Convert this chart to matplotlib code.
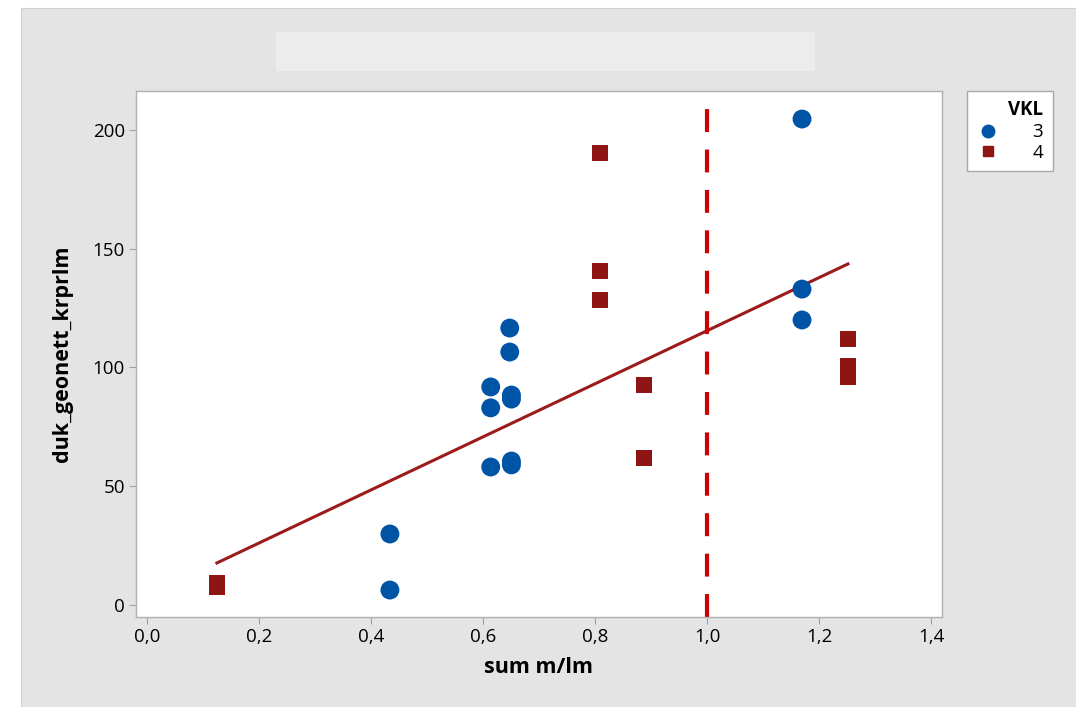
import matplotlib.pyplot as plt
from matplotlib.patches import Rectangle
from matplotlib.lines import Line2D

plt.rcParams["font.family"] = ["Open Sans", "DejaVu Sans"]

# VKL = 3 (blue circles)
x3 = [0.433, 0.433, 0.613, 0.613, 0.613, 0.647, 0.647, 0.650, 0.650, 0.650, 0.650, 1.169, 1.169, 1.169]
y3 = [29.9, 6.3, 91.8, 83.0, 58.1, 116.6, 106.5, 88.4, 86.7, 60.6, 59.0, 204.6, 133.0, 120.0]

# VKL = 4 (red squares)
x4 = [0.124, 0.124, 0.808, 0.808, 0.808, 0.887, 0.887, 1.251, 1.251, 1.251]
y4 = [9.3, 7.6, 190.3, 140.6, 128.4, 92.6, 61.9, 112.0, 100.6, 96.0]

# fitted line
fit_x = [0.124, 1.251]
fit_intercept = 3.85
fit_slope = 111.7
ref_x = 1.0

xticks = [0.0, 0.2, 0.4, 0.6, 0.8, 1.0, 1.2, 1.4]
xticklabels = ["0,0", "0,2", "0,4", "0,6", "0,8", "1,0", "1,2", "1,4"]
yticks = [0, 50, 100, 150, 200]

blue = "#0054A6"
red = "#8F1414"
grey_bg = "#E4E4E4"

fig = plt.figure(figsize=(10.76, 7.07), dpi=100)
fig.patch.set_facecolor("white")
W, H = 1076, 707
fig.patches.append(Rectangle((21 / W, 0), 1, 1 - 8 / H, transform=fig.transFigure,
                             facecolor=grey_bg, edgecolor="#D0D0D0", lw=0.8, zorder=-2))
# hidden title box
fig.patches.append(Rectangle((276 / W, 1 - 71 / H), (815 - 276) / W, 39 / H,
                             transform=fig.transFigure, facecolor="#ECECEC",
                             edgecolor="none", zorder=-1))

ax = fig.add_axes([136 / W, 1 - 617 / H, (942 - 136) / W, (617 - 91) / H])
ax.set_zorder(2)
ax.set_facecolor("white")

ax.scatter(x3, y3, s=185, marker="o", color=blue, edgecolors="none", zorder=3)
ax.scatter(x4, y4, s=130, marker="s", color=red, edgecolors="none", zorder=3)

fy = [fit_intercept + fit_slope * v for v in fit_x]
ax.plot(fit_x, fy, color="#9B1B1B", lw=2.2, zorder=2)
ax.plot([ref_x, ref_x], [-5.05, 213.8], color="#CC0000", lw=3,
        dashes=(5.5, 4.2), zorder=2)

ax.set_xlim(-0.0205, 1.419)
ax.set_ylim(-5.05, 216.4)
ax.set_xticks(xticks)
ax.set_xticklabels(xticklabels)
ax.set_yticks(yticks)
ax.tick_params(axis="both", labelsize=13.5, labelcolor="black", color="#A0A0A0",
               length=5, width=0.8, pad=3)
for sp in ax.spines.values():
    sp.set_color("#B0B0B0")
    sp.set_linewidth(1)

ax.set_xlabel("sum m/lm", fontsize=15.5, fontweight="bold", labelpad=8)
ax.set_ylabel("duk_geonett_krprlm", fontsize=15.5, fontweight="bold", labelpad=14)

handles = [Line2D([], [], marker="o", color=blue, linestyle="none", markersize=9),
           Line2D([], [], marker="s", color=red, linestyle="none", markersize=7.5)]
leg = fig.legend(handles, ["3", "4"], title="VKL", loc="upper left",
                 bbox_to_anchor=(967 / W, 1 - 91 / H), borderaxespad=0,
                 frameon=True, fancybox=False, fontsize=13.5, title_fontsize=13.5,
                 markerfirst=True, handlelength=1.2, handletextpad=1.8,
                 borderpad=0.5, labelspacing=0.15, alignment="right")
leg.get_title().set_fontweight("bold")
leg.get_frame().set_edgecolor("#A8A8A8")
leg.get_frame().set_facecolor("white")
leg.get_frame().set_alpha(1)
leg.get_frame().set_linewidth(1)
for t in leg.get_texts():
    t.set_ha("right")

fig.savefig("out.png", dpi=100, facecolor=fig.get_facecolor())
